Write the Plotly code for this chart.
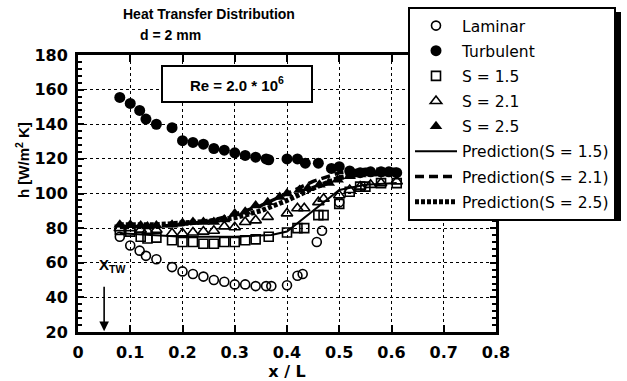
import plotly.graph_objects as go

# ---------------- data ----------------
lam_x = [0.08, 0.10, 0.118, 0.13, 0.15, 0.18, 0.20, 0.22, 0.24, 0.26, 0.28, 0.30, 0.32, 0.34, 0.36, 0.37,
         0.40, 0.42, 0.43, 0.457, 0.467, 0.50]
lam_y = [75, 70, 67, 64, 62, 57.5, 55, 53.5, 52, 50, 49, 47.5, 47.5, 46.5, 46.5, 46.5,
         47, 52.5, 53.5, 72, 78.5, 95]

turb_x = [0.08, 0.10, 0.118, 0.13, 0.15, 0.18, 0.20, 0.22, 0.24, 0.26, 0.28, 0.30, 0.32, 0.34, 0.36, 0.365,
          0.40, 0.42, 0.435, 0.46, 0.485, 0.50, 0.52, 0.54, 0.56, 0.58, 0.595, 0.61]
turb_y = [155.5, 152, 148, 143, 140, 138, 130.5, 129.5, 128.5, 126, 125, 123.5, 122, 121, 120, 119.5,
          120, 120, 117.5, 117.5, 114.5, 115.5, 113, 112, 112.5, 112.5, 112.5, 112]

s15_x = [0.08, 0.10, 0.12, 0.133, 0.15, 0.18, 0.20, 0.22, 0.24, 0.26, 0.28, 0.30, 0.32, 0.34, 0.365,
         0.40, 0.42, 0.433, 0.46, 0.47, 0.50, 0.52, 0.54, 0.55, 0.58, 0.61]
s15_y = [79, 78, 75, 74, 74.5, 73, 72, 72, 71, 71, 72, 72, 73, 73.5, 75,
         77.5, 80, 80, 87.5, 87.5, 94, 101, 104, 104, 106, 106]

s21_x = [0.08, 0.10, 0.12, 0.133, 0.15, 0.18, 0.20, 0.22, 0.24, 0.26, 0.28, 0.30, 0.32, 0.34, 0.363,
         0.40, 0.42, 0.433, 0.46, 0.47, 0.50, 0.52, 0.54, 0.56, 0.58, 0.61]
s21_y = [80, 80, 79, 78.5, 79, 77, 77, 77.5, 78, 78.5, 81, 80.5, 83.5, 84.5, 86.5,
         88.5, 91.5, 91.5, 95, 97, 99, 102, 104, 105, 106, 107]

s25_x = [0.08, 0.10, 0.12, 0.133, 0.15, 0.18, 0.20, 0.22, 0.24, 0.26, 0.28, 0.30, 0.32, 0.34, 0.363, 0.386,
         0.40, 0.424, 0.44, 0.462, 0.48, 0.497, 0.52, 0.54, 0.56, 0.576, 0.592, 0.605]
s25_y = [82, 82, 81.5, 81, 81.5, 82, 83, 83.5, 83.5, 83.5, 85, 88.5, 89.5, 93, 95, 98,
         100, 102, 103, 105, 106, 108, 110, 111, 111.5, 111.5, 111.5, 111.5]

pred15_x = [0.08, 0.15, 0.20, 0.30, 0.37, 0.40, 0.45, 0.50, 0.55, 0.61]
pred15_y = [77, 76, 75, 75, 76, 78, 90, 102, 105, 106]

pred21_x = [0.08, 0.15, 0.20, 0.25, 0.30, 0.35, 0.40, 0.45, 0.50, 0.55, 0.61]
pred21_y = [81, 81, 82, 84, 88, 93, 100, 107, 112, 114, 114]

pred25_x = [0.08, 0.15, 0.20, 0.25, 0.30, 0.35, 0.40, 0.45, 0.50, 0.55, 0.61]
pred25_y = [82, 82, 83, 84, 86, 90, 96, 103, 109, 112, 112]

x_ticks = [0, 0.1, 0.2, 0.3, 0.4, 0.5, 0.6, 0.7, 0.8]
x_tick_labels = ["0", "0.1", "0.2", "0.3", "0.4", "0.5", "0.6", "0.7", "0.8"]
y_ticks = [20, 40, 60, 80, 100, 120, 140, 160, 180]

# ---------------- figure ----------------
W, H = 627, 381
L, R, T, B = 78, 131, 55, 49
PW, PH = W - L - R, H - T - B


def px2paper(px, py):
    return (px - L) / PW, (H - B - py) / PH


FONT = "DejaVu Sans"
BOLD = "Liberation Sans"

fig = go.Figure()

fig.add_trace(go.Scatter(x=lam_x, y=lam_y, mode="markers", name="Laminar", legendgroup="a",
                         marker=dict(symbol="circle-open", size=9, color="black", line=dict(width=1.6))))
fig.add_trace(go.Scatter(x=turb_x, y=turb_y, mode="markers", name="Turbulent", legendgroup="b",
                         marker=dict(symbol="circle", size=11, color="black")))
fig.add_trace(go.Scatter(x=s15_x, y=s15_y, mode="markers", name="S = 1.5", legendgroup="c",
                         marker=dict(symbol="square-open", size=9, color="black", line=dict(width=1.6))))
fig.add_trace(go.Scatter(x=s21_x, y=s21_y, mode="markers", name="S = 2.1", legendgroup="d",
                         marker=dict(symbol="triangle-up-open", size=10, color="black", line=dict(width=1.6))))
fig.add_trace(go.Scatter(x=s25_x, y=s25_y, mode="markers", name="S = 2.5", legendgroup="e",
                         marker=dict(symbol="triangle-up", size=11, color="black")))
fig.add_trace(go.Scatter(x=pred15_x, y=pred15_y, mode="lines", name="Prediction(S = 1.5)", legendgroup="f",
                         line=dict(color="black", width=2)))
fig.add_trace(go.Scatter(x=pred21_x, y=pred21_y, mode="lines", name="Prediction(S = 2.1)", legendgroup="g",
                         line=dict(color="black", width=3.5, dash="9px,5px")))
fig.add_trace(go.Scatter(x=pred25_x, y=pred25_y, mode="lines", name="Prediction(S = 2.5)", legendgroup="h",
                         line=dict(color="black", width=5, dash="4px,2px")))

axis_common = dict(
    showline=True, linecolor="black", linewidth=3, mirror="allticks",
    ticks="inside", tickcolor="black", tickwidth=2,
    showgrid=True, gridcolor="black", gridwidth=1.2, griddash="dot",
    zeroline=False,
    tickfont=dict(family=FONT, size=16, color="black", weight="bold"),
)

fig.update_xaxes(range=[0, 0.8], tickvals=x_ticks, ticktext=x_tick_labels, ticklen=7,
                 ticklabelstandoff=4,
                 title=dict(text="x / L", font=dict(family=FONT, size=16, color="black", weight="bold"),
                            standoff=4),
                 **axis_common)
fig.update_yaxes(range=[20, 180], tickvals=y_ticks, ticklen=6, ticklabelstandoff=4,
                 minor=dict(dtick=4, tick0=20, ticks="inside", ticklen=4, tickcolor="black",
                            tickwidth=1.5, showgrid=False),
                 **axis_common)

lx, ly = px2paper(408, 7)
fig.update_layout(
    width=W, height=H,
    margin=dict(l=L, r=R, t=T, b=B, autoexpand=False),
    paper_bgcolor="white", plot_bgcolor="white",
    font=dict(family=FONT, color="black"),
    legend=dict(x=lx, y=ly, xanchor="left", yanchor="top",
                bgcolor="white", bordercolor="black", borderwidth=2,
                font=dict(family=FONT, size=15.5, color="black"),
                traceorder="grouped", tracegroupgap=2, itemwidth=42, maxheight=300),
    showlegend=True,
)

# legend drop shadow
sx0, sy0 = px2paper(413, 12)
sx1, sy1 = px2paper(621, 221)
fig.add_shape(type="rect", xref="paper", yref="paper", x0=sx0, y0=sy1, x1=sx1, y1=sy0,
              fillcolor="black", line=dict(width=0), layer="above")

# title texts
tx, ty = px2paper(209, 14)
fig.add_annotation(xref="paper", yref="paper", x=tx, y=ty, xanchor="center", yanchor="middle",
                   text="Heat Transfer Distribution",
                   showarrow=False, font=dict(family=BOLD, size=14, color="black", weight="bold"))
dx, dy = px2paper(138, 35)
fig.add_annotation(xref="paper", yref="paper", x=dx, y=dy, xanchor="left", yanchor="middle",
                   text="d = 2 mm", showarrow=False,
                   font=dict(family=BOLD, size=14, color="black", weight="bold"))

# y-axis title
yx, yy = px2paper(22, 160)
fig.add_annotation(xref="paper", yref="paper", x=yx, y=yy, xanchor="center", yanchor="middle",
                   text="h [W/m<sup>2</sup> K]",
                   textangle=-90, showarrow=False,
                   font=dict(family=BOLD, size=15, color="black", weight="bold"))

# Re box
fig.add_annotation(x=0.304, y=163, text="Re = 2.0 * 10<sup>6</sup>", showarrow=False,
                   bordercolor="black", borderwidth=2, bgcolor="white", width=146, height=32,
                   font=dict(family=BOLD, size=15, color="black", weight="bold"))

# X_TW marker and arrow
fig.add_annotation(x=0.066, y=58.5, text="X<sub>TW</sub>", showarrow=False,
                   xanchor="center", yanchor="middle",
                   font=dict(family=BOLD, size=15, color="black", weight="bold"))
fig.add_annotation(x=0.05, y=20.5, ax=0.05, ay=47, axref="x", ayref="y", xref="x", yref="y",
                   text="", showarrow=True, arrowhead=2, arrowsize=1.2, arrowwidth=1.6, arrowcolor="black")

fig.write_html("out.html", config={"displayModeBar": False},
               post_script="document.body.style.margin='0';")
